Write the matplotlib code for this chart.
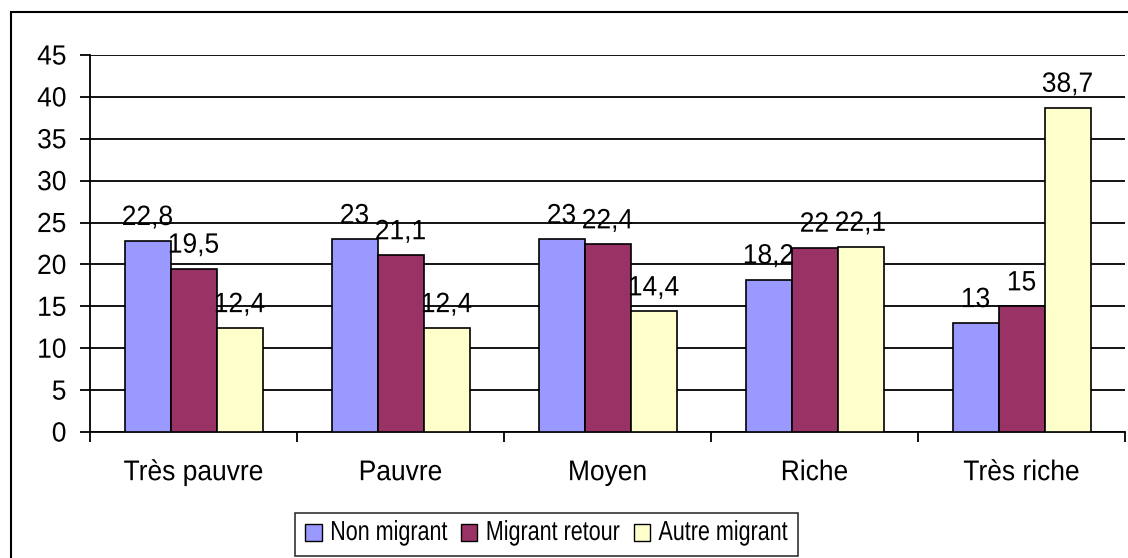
import matplotlib
matplotlib.use("Agg")
import matplotlib.pyplot as plt
from matplotlib.patches import Rectangle, Patch
from matplotlib import patheffects
from matplotlib.transforms import Affine2D
import numpy as np

plt.rcParams['font.family'] = ['Liberation Sans', 'DejaVu Sans']

categories = ["Très pauvre", "Pauvre", "Moyen", "Riche", "Très riche"]
series_names = ["Non migrant", "Migrant retour", "Autre migrant"]
non_migrant = [22.8, 23, 23, 18.2, 13]
migrant_retour = [19.5, 21.1, 22.4, 22, 15]
autre_migrant = [12.4, 12.4, 14.4, 22.1, 38.7]
value_labels = [
    ["22,8", "23", "23", "18,2", "13"],
    ["19,5", "21,1", "22,4", "22", "15"],
    ["12,4", "12,4", "14,4", "22,1", "38,7"],
]
colors = ["#9999FF", "#993366", "#FFFFCC"]
yticks = [0, 5, 10, 15, 20, 25, 30, 35, 40, 45]


class StretchY(patheffects.AbstractPathEffect):
    """Stretch glyphs vertically about their baseline."""
    def __init__(self, sy):
        super().__init__()
        self.sy = sy

    def draw_path(self, renderer, gc, tpath, affine, rgbFace=None):
        renderer.draw_path(gc, tpath, Affine2D().scale(1, self.sy) + affine, rgbFace)


FS = 19
W, H = 1128, 558
fig = plt.figure(figsize=(W / 100, H / 100), dpi=100)
ax = fig.add_axes([90 / W, 1 - 432 / H, (1125 - 90) / W, (432 - 55) / H])

# figure border (left and top visible)
fig.patches.append(Rectangle((11 / W, -0.1), 1.2, (1 - 12 / H) + 0.1,
                             transform=fig.transFigure, fill=False,
                             edgecolor="black", linewidth=1.5, zorder=0))

x = np.arange(len(categories))
bw = 46 / 207
data = [non_migrant, migrant_retour, autre_migrant]
for i, (vals, c) in enumerate(zip(data, colors)):
    pos = x + (i - 1) * bw
    ax.bar(pos, vals, width=bw, color=c, edgecolor="black", linewidth=1.2,
           zorder=3, label=series_names[i])
    for p, v, lab in zip(pos, vals, value_labels[i]):
        ax.annotate(lab, (p, v), xytext=(0, 11.5), textcoords="offset points",
                    ha="center", va="baseline", fontsize=FS, zorder=4,
                    path_effects=[StretchY(1.06)])

ax.set_ylim(0, 45)
ax.set_xlim(-0.5, len(categories) - 0.5)
ax.set_yticks(yticks)
ax.set_yticklabels([str(t) for t in yticks], fontsize=FS)
ax.yaxis.grid(True, color="black", linewidth=1.3)
ax.set_axisbelow(True)

ax.set_xticks(np.arange(len(categories) + 1) - 0.5)
ax.set_xticklabels([])
ax.set_xticks(x, minor=True)
ax.set_xticklabels(categories, minor=True, fontsize=FS)
ax.tick_params(axis="x", which="major", length=7, width=1.3, direction="out")
ax.tick_params(axis="x", which="minor", length=0, pad=21)
ax.tick_params(axis="y", length=7, width=1.3, pad=10)
for t in ax.get_xticklabels(minor=True):
    t.set_path_effects([StretchY(1.08)])
for t in ax.get_yticklabels():
    t.set_path_effects([StretchY(1.05)])

for s in ["top", "right"]:
    ax.spines[s].set_visible(False)
ax.spines["left"].set_linewidth(1.3)
ax.spines["bottom"].set_linewidth(1.3)

handles = [Patch(facecolor=c, edgecolor="black", linewidth=1.0) for c in colors]
leg = fig.legend(handles, series_names, loc="center",
                 bbox_to_anchor=(546.5 / W, 1 - 534.5 / H), ncol=3,
                 fontsize=15.5, frameon=True, fancybox=False,
                 handlelength=0.75, handleheight=0.8, handletextpad=0.4,
                 columnspacing=0.65, borderpad=0.5, borderaxespad=0)
leg.get_frame().set_edgecolor("black")
leg.get_frame().set_linewidth(1.2)
for t in leg.get_texts():
    t.set_path_effects([StretchY(1.28)])

fig.savefig("out.png", dpi=100)
